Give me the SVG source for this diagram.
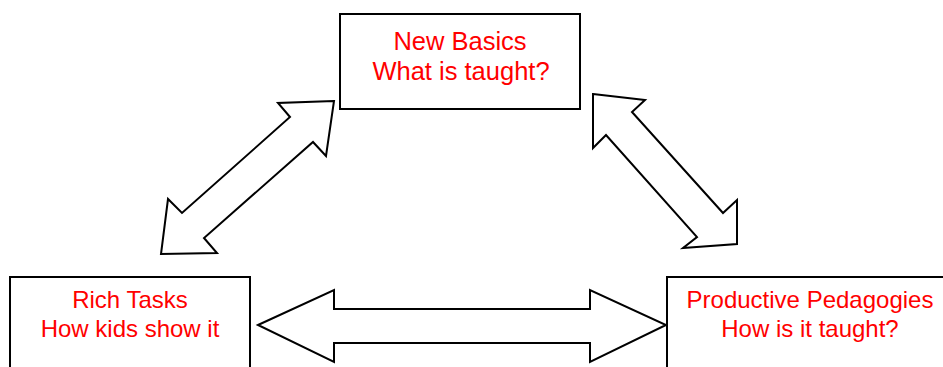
<svg xmlns="http://www.w3.org/2000/svg" width="943" height="367" viewBox="0 0 943 367">
<style>
.box{fill:#fff;stroke:#000;stroke-width:2}
.arr{fill:#fff;stroke:#000;stroke-width:2;stroke-linejoin:miter}
.t{font-family:"Liberation Sans",Arial,sans-serif;font-size:24px;fill:#ff0000;text-anchor:middle}
.tl{font-size:25.5px}
</style>
<rect width="943" height="367" fill="#fff"/>
<g id="connectors">
<polygon class="arr" points="334,101 278,103 290,117 182,213 168,199 161,254 217,253 204,238 313,142 326,156"/>
<polygon class="arr" points="593,94 645,100 632,112 723,213 737,200 737,244 683,248 697,237 606,135 593,148"/>
<polygon class="arr" points="258,325 334,290 334,309 590,309 590,290 666,325 590,362 590,343 334,343 334,362"/>
</g>
<g id="new-basics">
<rect class="box" x="340" y="14" width="240" height="95"/>
<text class="t tl" x="460" y="50">New Basics</text>
<text class="t tl" x="461" y="80">What is taught?</text>
</g>
<g id="rich-tasks">
<rect class="box" x="10" y="277" width="240" height="100"/>
<text class="t" x="130" y="308">Rich Tasks</text>
<text class="t" x="130" y="337">How kids show it</text>
</g>
<g id="productive-pedagogies">
<rect class="box" x="667" y="277" width="290" height="100"/>
<text class="t" x="810" y="308">Productive Pedagogies</text>
<text class="t" x="810" y="337">How is it taught?</text>
</g>
</svg>
